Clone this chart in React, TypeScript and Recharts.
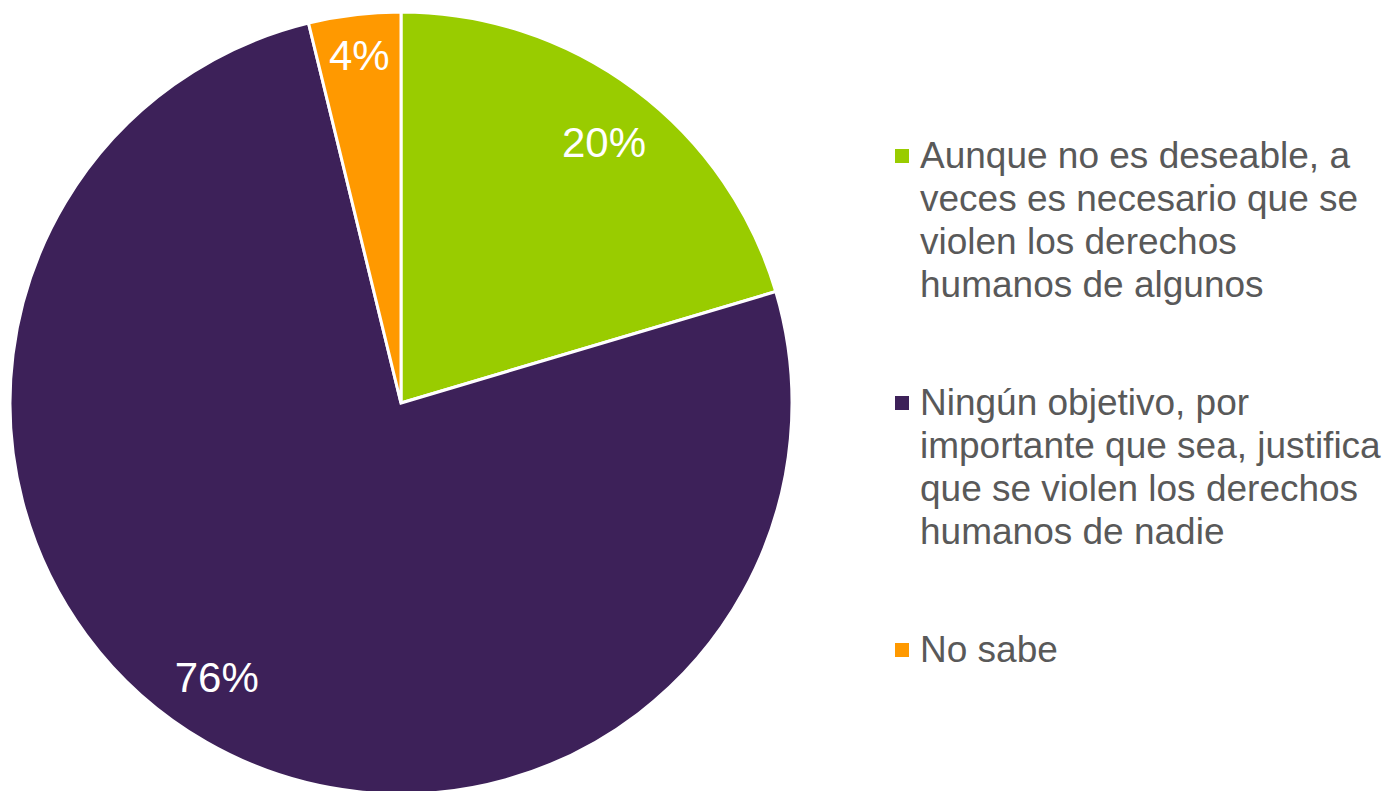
import { PieChart, Pie, Cell, Legend } from "recharts";

const categories = [
  "Aunque no es deseable, a\nveces es necesario que se\nviolen los derechos\nhumanos de algunos",
  "Ningún objetivo, por\nimportante que sea, justifica\nque se violen los derechos\nhumanos de nadie",
  "No sabe",
];
const values = [20.4, 75.8, 3.8];
const colors = ["#99cc00", "#3d2159", "#ff9900"];

const data = categories.map((name, i) => ({ name, value: values[i] }));

const FONT = "'Liberation Sans', Arial, sans-serif";
const RAD = Math.PI / 180;

// label placement tweaks (radius fraction, angle shift) per slice
const labelRadius = [0.845, 0.845, 0.895];
const labelShift = [-1.2, -4, 0];

function renderLabel(props: any) {
  const { cx, cy, midAngle, outerRadius, value, index } = props;
  const r = outerRadius * labelRadius[index];
  const a = (midAngle + labelShift[index]) * RAD;
  const x = cx + r * Math.cos(-a);
  const y = cy + r * Math.sin(-a);
  return (
    <text x={x} y={y} fill="#ffffff" fontSize={42} fontFamily={FONT} textAnchor="middle" dominantBaseline="central">
      {Math.round(value)}%
    </text>
  );
}

function LegendBox() {
  return (
    <div style={{ fontFamily: FONT, fontSize: 37, lineHeight: "43px", color: "#595959" }}>
      {data.map((d, i) => (
        <div key={i} style={{ position: "relative", paddingLeft: 25, marginBottom: 75, whiteSpace: "pre-line" }}>
          <span style={{ position: "absolute", left: 0, top: 15, width: 14, height: 14, background: colors[i] }} />
          {d.name}
        </div>
      ))}
    </div>
  );
}

export default function App() {
  return (
    <div style={{ position: "absolute", left: 0, top: 0, width: 1391, height: 791, background: "#fff" }}>
      <PieChart width={1391} height={791} margin={{ top: 0, right: 0, bottom: 0, left: 0 }}>
        <Pie
          data={data}
          dataKey="value"
          cx={401}
          cy={403}
          outerRadius={391}
          startAngle={90}
          endAngle={-270}
          stroke="#ffffff"
          strokeWidth={3}
          label={renderLabel}
          labelLine={false}
          isAnimationActive={false}
        >
          {data.map((_, i) => (
            <Cell key={i} fill={colors[i]} />
          ))}
        </Pie>
        <Legend
          layout="vertical"
          content={<LegendBox />}
          wrapperStyle={{ left: 895, top: 134, width: 496, bottom: "auto" }}
        />
      </PieChart>
    </div>
  );
}
